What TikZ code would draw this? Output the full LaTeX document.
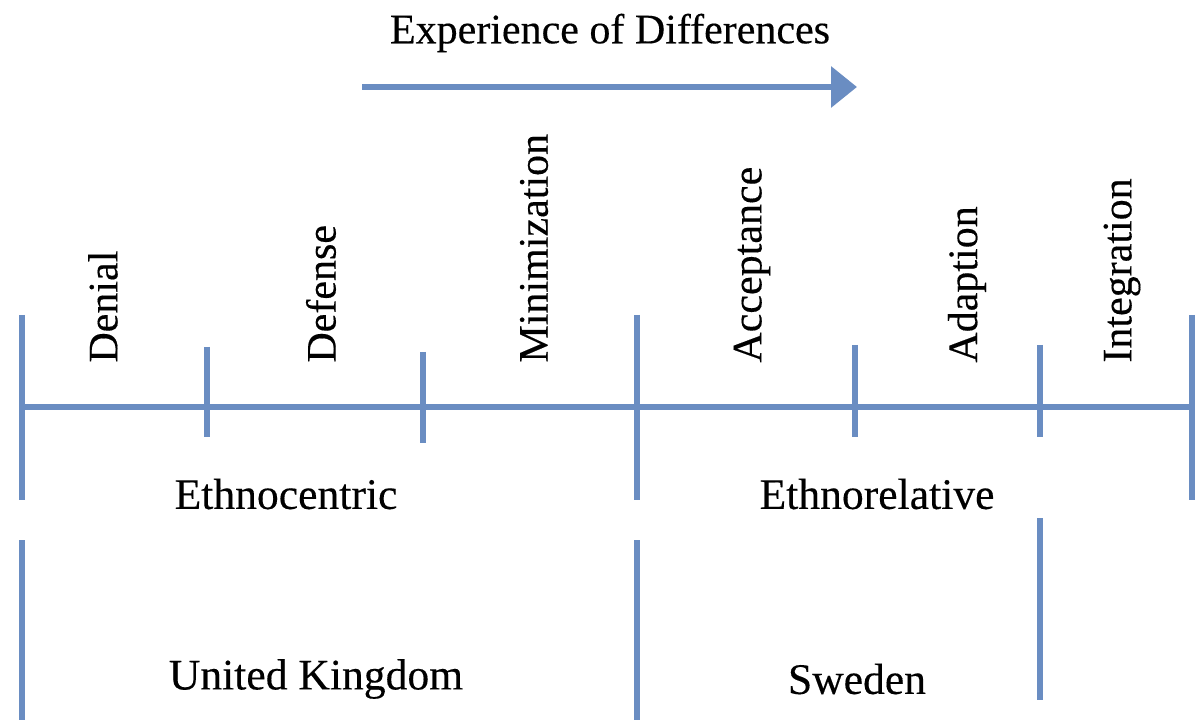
\documentclass[tikz,border=0pt]{standalone}
\usepackage{fontspec}
\setmainfont{Liberation Serif}
\newfontfamily\labelfont[FakeBold=0.3]{Liberation Serif}
\usetikzlibrary{arrows.meta}
\definecolor{axisblue}{HTML}{6A8DC2}
\tikzset{
  axis/.style={draw=axisblue, line width=3.4pt},
  lbl/.style={font=\labelfont\fontsize{21}{25}\selectfont, inner sep=0pt},
  grouplbl/.style={lbl, font=\labelfont\fontsize{21.8}{26}\selectfont},
  stagelbl/.style={lbl, rotate=90, anchor=west},
}
\begin{document}
\begin{tikzpicture}[x=0.5pt,y=-0.5pt]
\useasboundingbox[fill=white] (0,0) rectangle (1203,726);
% title and arrow
\node[lbl] (title) at (610,33) {Experience of Differences};
\coordinate (arrS) at (362,87);
\coordinate (arrE) at (857,87);
\draw[axis,-{Triangle[width=20pt,length=13pt]}] (arrS) -- (arrE);
% main axis
\coordinate (L) at (22,407);
\coordinate (R) at (1192,407);
\draw[axis] (L) -- (R);
% tall ticks
\foreach \x in {22,637,1192} \draw[axis] (\x,315) -- (\x,500);
% short ticks
\draw[axis] (207,347) -- (207,437);
\draw[axis] (423,352) -- (423,443);
\draw[axis] (855,345) -- (855,437);
\draw[axis] (1040,345) -- (1040,437);
% lower segments
\draw[axis] (22,540) -- (22,720);
\draw[axis] (637,540) -- (637,720);
\draw[axis] (1040,518) -- (1040,700);
% stage labels
\node[stagelbl] (denial) at (103,363) {Denial};
\node[stagelbl] (defense) at (321,363) {Defense};
\node[stagelbl] (mini) at (534,363) {Minimization};
\node[stagelbl] (acc) at (752,363) {Acceptance};
\node[stagelbl] (adap) at (967,363) {Adaption};
\node[stagelbl] (integ) at (1122,363) {Integration};
% group labels
\node[grouplbl] (ethc) at (286,494) {Ethnocentric};
\node[grouplbl] (ethr) at (877,494) {Ethnorelative};
\node[grouplbl] (uk) at (316,679) {United Kingdom};
\node[grouplbl] (swe) at (857,679) {Sweden};
\end{tikzpicture}
\end{document}
